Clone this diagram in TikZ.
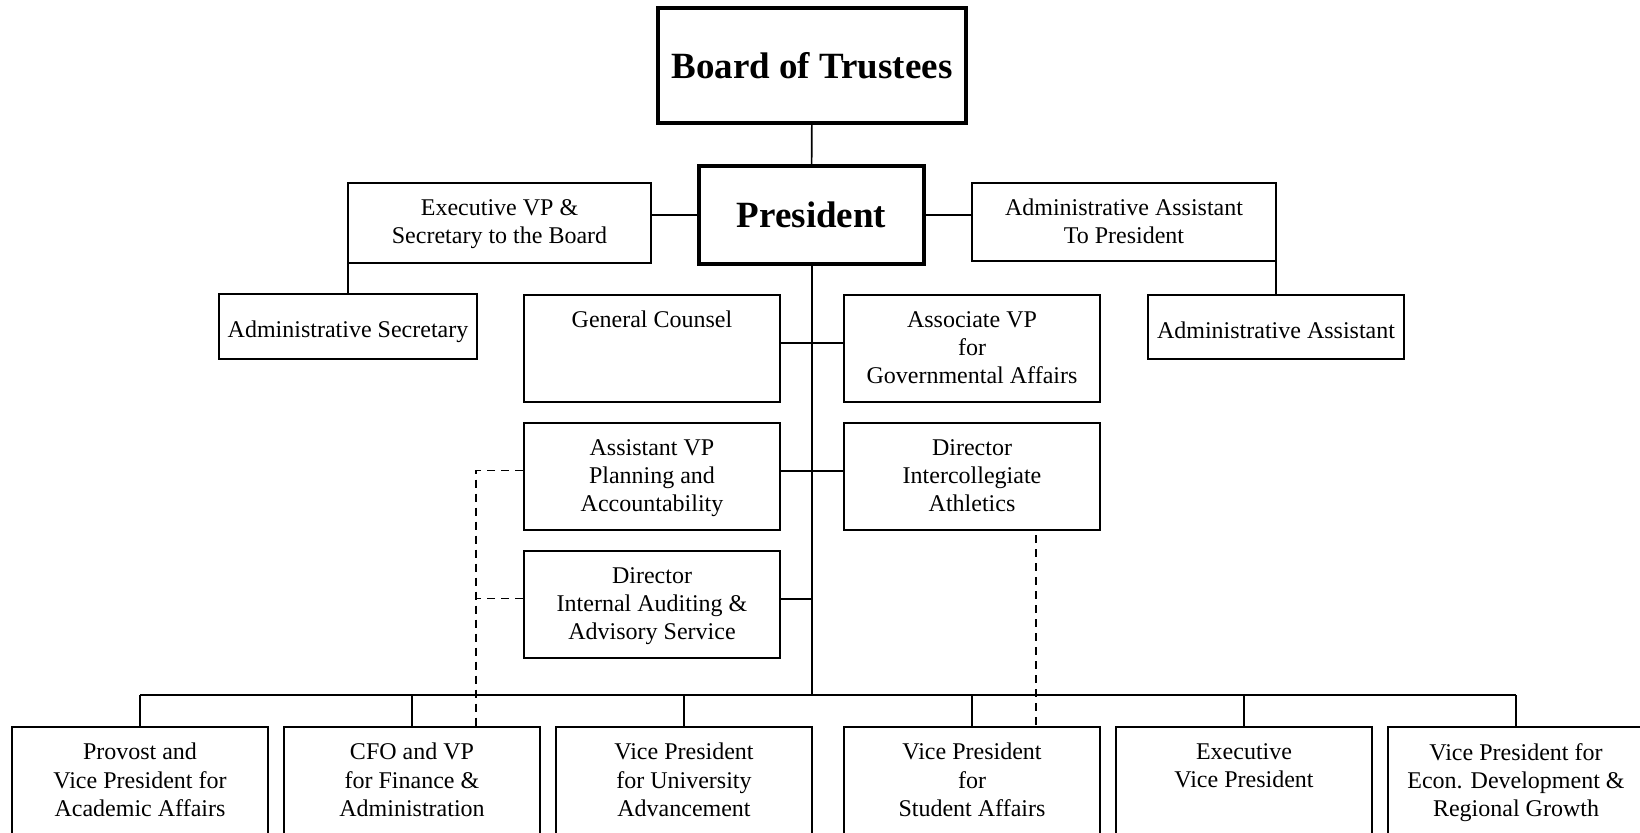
\documentclass[tikz,border=0pt]{standalone}
\usepackage{fontspec}
\setmainfont{Liberation Serif}
\begin{document}
\begin{tikzpicture}[x=0.5pt,y=-0.5pt,
    post/.style={draw,line width=1pt,inner sep=0pt,align=center,
      font=\fontsize{12}{14.2}\selectfont,minimum width=128pt,minimum height=53.5pt,
      execute at begin node=\rule{0pt}{12pt},text depth=1pt},
    head/.style={draw,line width=2.2pt,inner sep=0pt,font=\fontsize{18.5}{22}\selectfont\bfseries},
    lowpost/.style={post,minimum height=54pt},
    linkdash/.style={line width=0.8pt,dash pattern=on 4pt off 3pt}]
  \clip (0,0) rectangle (1640,832);
  \draw
    (812,65.5) node[head,minimum width=154pt,minimum height=57.5pt] (board){Board of Trustees}
    (811.5,215) node[head,minimum width=112.5pt,minimum height=49pt] (pres){President}
    (499.5,222.5) node[post,minimum width=151.5pt,minimum height=40pt] (evp){Executive VP \&\\Secretary to the Board}
    (1124,222) node[post,minimum width=152pt,minimum height=39pt] (aatp){Administrative Assistant\\To President}
    (348,326.5) node[post,minimum width=129pt,minimum height=32.5pt] (asec){Administrative Secretary}
    (1276,327) node[post,minimum width=128pt,minimum height=32pt] (aasst){Administrative Assistant}
    (652,348.5) node[post] (gc){General Counsel\\~\\~}
    (972,348.5) node[post] (avp){Associate VP\\for\\Governmental Affairs}
    (652,476.5) node[post] (avpp){Assistant VP\\Planning and\\Accountability}
    (972,476.5) node[post] (athl){Director\\Intercollegiate\\Athletics}
    (652,604.5) node[post] (audit){Director\\Internal Auditing \&\\Advisory Service}
    (140,781) node[lowpost] (provost){Provost and\\Vice President for\\Academic Affairs}
    (412,781) node[lowpost] (cfo){CFO and VP\\for Finance \&\\Administration}
    (684,781) node[lowpost] (vpua){Vice President\\for University\\Advancement}
    (972,781) node[lowpost] (vpsa){Vice President\\for\\Student Affairs}
    (1244,781) node[lowpost] (evpb){Executive\\Vice President\\~}
    (1516,781) node[lowpost] (econ){Vice President for\\Econ. Development \&\\Regional Growth};
  \coordinate (bus) at (812,695);
  \coordinate (dl) at (476,0);
  \coordinate (dr) at (1036,0);
  \begin{scope}[-,line width=1pt]
    \draw[line width=0.8pt] (board) to (pres);
    \draw (pres.west) -- (pres.west -| evp.east);
    \draw (pres.east) -- (pres.east -| aatp.west);
    \draw (asec.north) -- (asec.north |- evp.south);
    \draw (aasst.north) -- (aasst.north |- aatp.south);
    \draw (pres.south) -- (pres.south |- bus);
    \draw ([yshift=3pt]gc.east) -- ([yshift=3pt]avp.west);
    \draw ([yshift=3pt]avpp.east) -- ([yshift=3pt]athl.west);
    \draw ([yshift=3pt]audit.east) -- ([yshift=3pt]audit.east -| pres.south);
    \draw (provost.north |- bus) -- (econ.north |- bus);
    \foreach \n in {provost,cfo,vpua,vpsa,evpb,econ}
      \draw (\n.north) -- (\n.north |- bus);
  \end{scope}
  \begin{scope}[linkdash]
    \draw ([yshift=3pt]avpp.west) -| (cfo.north -| dl);
    \draw ([yshift=3pt]audit.west) -- ([yshift=3pt]audit.west -| dl);
    \draw ([yshift=-2pt]athl.south -| dr) -- (vpsa.north -| dr);
  \end{scope}
\end{tikzpicture}
\end{document}
